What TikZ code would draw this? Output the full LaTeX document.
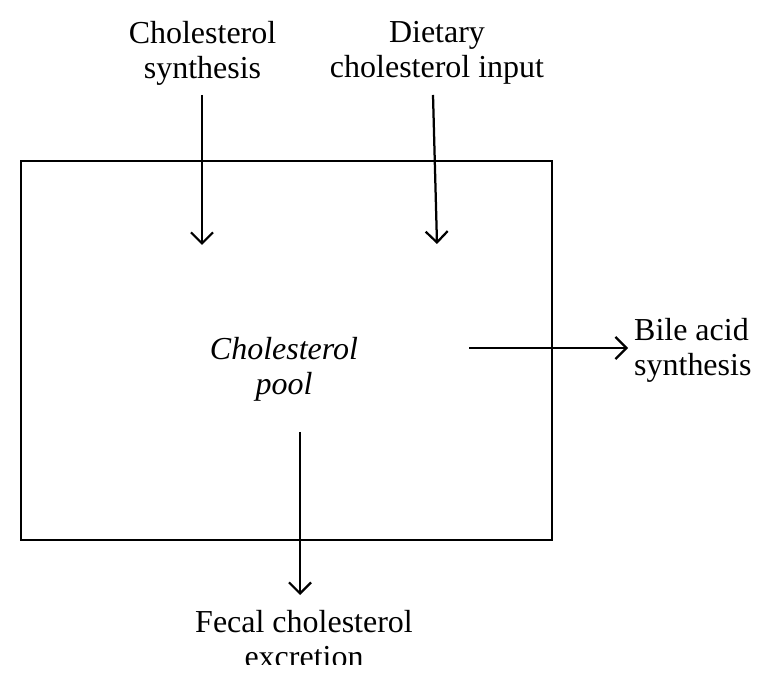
\documentclass[tikz,border=0pt]{standalone}
\usepackage{fontspec}
\setmainfont{Liberation Serif}
\usetikzlibrary{arrows.meta}
\begin{document}
\begin{tikzpicture}[
    lbl/.style={align=center,inner sep=0pt,font=\fontsize{36.4}{39.8}\selectfont},
    flow/.style={line width=0.09cm,-{Straight Barb[length=0.44cm,width=0.88cm]}}
  ]
    \useasboundingbox (0,0) rectangle (30.84,27.28);
    \clip (0,0.72) rectangle (30.84,27.28);
    % Pool box
    \draw[line width=0.1cm] (0.84,20.84) rectangle (22.08,5.68);
    \node[lbl,font=\fontsize{36.4}{39.8}\selectfont\itshape] (pool) at (11.36,12.5) {Cholesterol\\pool};
    % Inputs
    \node[lbl] (synth) at (8.10,25.16) {Cholesterol\\synthesis};
    \node[lbl] (diet) at (17.48,25.16) {Dietary\\cholesterol input};
    \coordinate (synthA) at (8.08,23.48);
    \coordinate (synthB) at (8.08,17.48);
    \coordinate (dietA) at (17.32,23.48);
    \coordinate (dietB) at (17.48,17.52);
    \draw[flow] (synthA) -- (synthB);
    \draw[flow] (dietA) -- (dietB);
    % Outputs
    \node[lbl,anchor=west,align=left] (bile) at (25.36,13.28) {Bile acid\\synthesis};
    \node[lbl] (fecal) at (12.16,1.72) {Fecal cholesterol\\excretion};
    \coordinate (bileA) at (18.76,13.36);
    \coordinate (bileB) at (25.12,13.36);
    \coordinate (fecalA) at (12.0,10.0);
    \coordinate (fecalB) at (12.0,3.48);
    \draw[flow] (bileA) -- (bileB);
    \draw[flow] (fecalA) -- (fecalB);
\end{tikzpicture}
\end{document}
